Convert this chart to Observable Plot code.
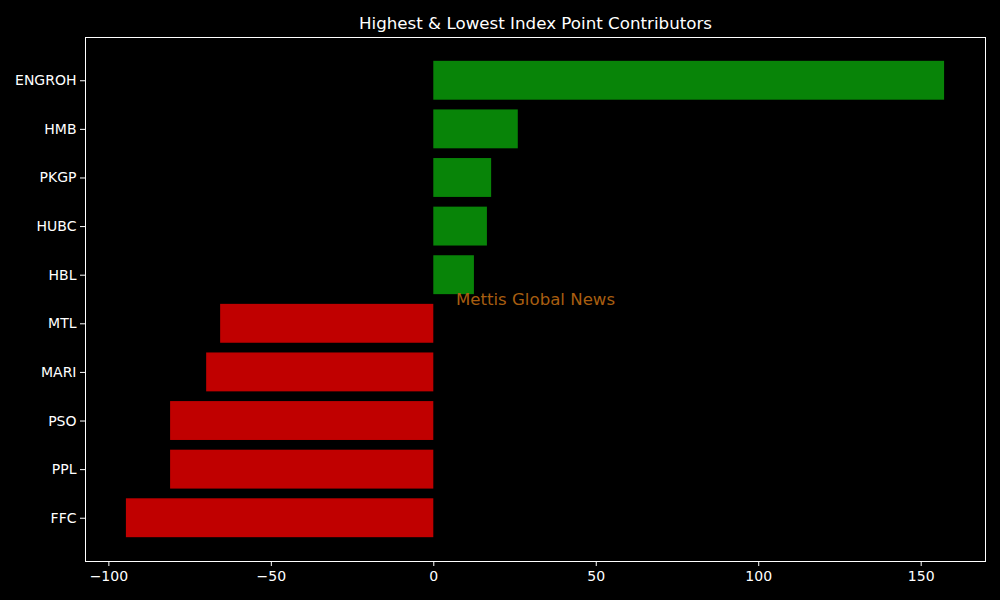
<!DOCTYPE html>
<html>
<head>
<meta charset="utf-8">
<script src="https://cdn.jsdelivr.net/npm/d3@7"></script>
<script src="https://cdn.jsdelivr.net/npm/@observablehq/plot@0.6"></script>
<style>
  html, body { margin: 0; padding: 0; background: #000; }
  #chart svg { display: block; }
</style>
</head>
<body>
<div id="chart"></div>
<script>
const companies = ["ENGROH", "HMB", "PKGP", "HUBC", "HBL", "MTL", "MARI", "PSO", "PPL", "FFC"];
const points = [157.2, 26.0, 17.8, 16.5, 12.5, -65.6, -69.9, -81.0, -81.0, -94.6];
const xTicks = [-100, -50, 0, 50, 100, 150];
const titleText = "Highest & Lowest Index Point Contributors";
const watermark = "Mettis Global News";

const data = companies.map((c, i) => ({company: c, value: points[i]}));

const lo = Math.min(0, d3.min(points)), hi = Math.max(0, d3.max(points));
const pad = (hi - lo) * 0.05;

const font = "DejaVu Sans, sans-serif";
const fmt = d => d < 0 ? "\u2212" + Math.abs(d) : String(d);

const chart = Plot.plot({
  width: 1000,
  height: 600,
  marginLeft: 85,
  marginRight: 15,
  marginTop: 37,
  marginBottom: 39,
  style: {background: "#000", color: "#fff", fontFamily: font, fontSize: "14px"},
  x: {domain: [lo - pad, hi + pad], ticks: xTicks, tickFormat: fmt, label: null},
  y: {domain: companies, paddingInner: 0.2, paddingOuter: 0.49, round: false, label: null},
  marks: [
    Plot.barX(data, {x: "value", y: "company", fill: d => d.value >= 0 ? "#088408" : "#c00000"}),
    Plot.axisX({ticks: xTicks, tickSize: 5, tickPadding: 5, stroke: "#fff", tickFormat: fmt, fontSize: 14, label: null}),
    Plot.axisY({tickSize: 5, tickPadding: 4, stroke: "#fff", fontSize: 14, label: null}),
    Plot.frame({stroke: "#fff", strokeWidth: 1}),
    Plot.text([watermark], {frameAnchor: "middle", text: d => d, fill: "#a85e10", fontSize: 16.6}),
    Plot.text([titleText], {frameAnchor: "top", lineAnchor: "middle", dy: -14, text: d => d, fill: "#fff", fontSize: 16.7})
  ]
});
document.getElementById("chart").appendChild(chart);
</script>
</body>
</html>
